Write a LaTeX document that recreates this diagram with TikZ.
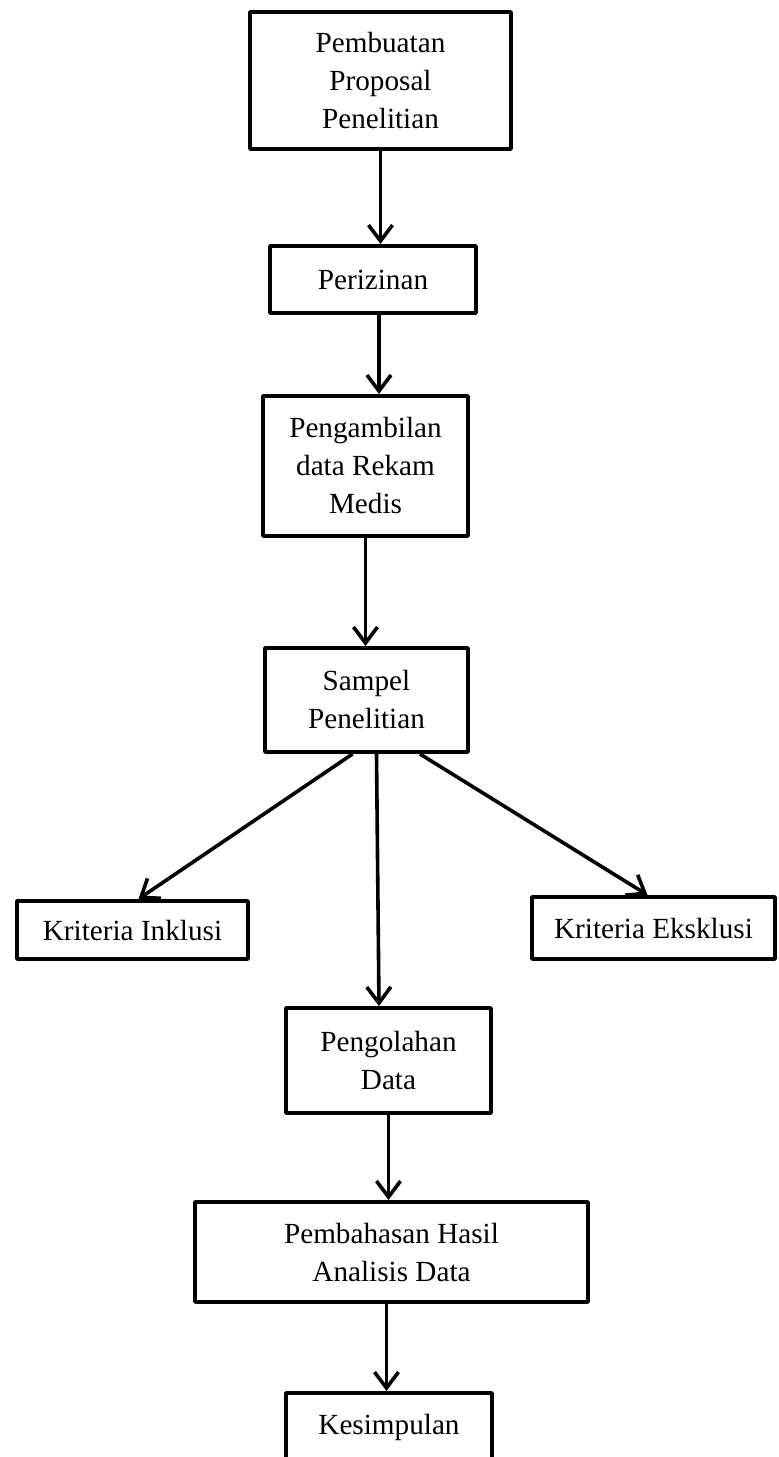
\documentclass[tikz,border=0pt]{standalone}
\usepackage{fontspec}
\setmainfont{Liberation Serif}
\usepackage{tikz}
\usetikzlibrary{
        arrows.meta,
        positioning
    }

\begin{document}
\begin{tikzpicture}
[x=1pt, y=1pt,
baseshape/.style={text centered, align=center, font=\fontsize{14.6}{19}\selectfont, draw=black, line width=2.2pt, line join=round, inner sep=2pt},
process/.style={baseshape, rectangle},
arrow/.style={line width=1.8pt, -{Straight Barb[length=8pt, width=12pt, line width=1.8pt]}},
]
    \useasboundingbox (0,0) rectangle (389.5,-728.5);
    \node (prop) [process, minimum width=130.3pt, minimum height=68.3pt] at (190.25,-40.25) {Pembuatan\\ Proposal\\ Penelitian};
    \node (izin) [process, minimum width=102.8pt, minimum height=33.3pt] at (186.5,-139.75) {Perizinan};
    \node (rekam) [process, minimum width=102.3pt, minimum height=69.8pt] at (182.75,-233) {Pengambilan\\ data Rekam\\ Medis};
    \node (sampel) [process, minimum width=101.3pt, minimum height=51.8pt] at (183.25,-350) {Sampel\\ Penelitian};
    \node (inklusi) [process, minimum width=115.3pt, minimum height=28.8pt] at (66.25,-465) {Kriteria Inklusi};
    \node (eksklusi) [process, minimum width=121.3pt, minimum height=30.8pt] at (326.75,-464) {Kriteria Eksklusi};
    \node (olah) [process, minimum width=102.3pt, minimum height=52.3pt] at (194.25,-530.25) {Pengolahan\\ Data};
    \node (bahas) [process, minimum width=196.3pt, minimum height=49.8pt] at (195.75,-626) {Pembahasan Hasil\\ Analisis Data};
    \node (simpul) [process, minimum width=102.8pt, minimum height=33.8pt] at (194.5,-713.5) {Kesimpulan};
    \draw[arrow] (prop.south) -- (prop.south |- izin.north);
    \draw[arrow] ([xshift=3pt]izin.south) -- ([xshift=3pt]izin.south |- rekam.north);
    \draw[arrow] (rekam.south) -- (rekam.south |- sampel.north);
    \draw[arrow] ([xshift=-7pt]sampel.south) -- ([xshift=3pt]inklusi.north);
    \draw[arrow] ([xshift=5pt]sampel.south) -- ([xshift=-4.75pt]olah.north);
    \draw[arrow] ([xshift=26.75pt]sampel.south) -- ([xshift=-3pt]eksklusi.north);
    \draw[arrow] (olah.south) -- (olah.south |- bahas.north);
    \draw[arrow] ([xshift=-2.5pt]bahas.south) -- ([xshift=-2.5pt]bahas.south |- simpul.north);
\end{tikzpicture}
\end{document}
